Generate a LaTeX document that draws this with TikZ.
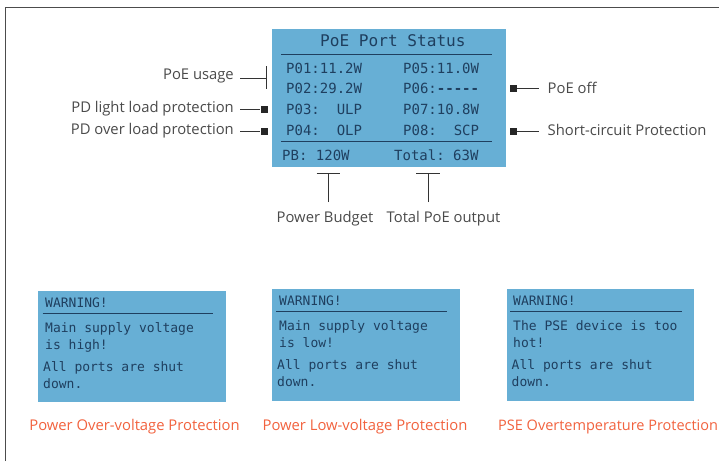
\documentclass[tikz,border=0pt]{standalone}
\usepackage{fontspec}
\setmainfont{Open Sans}
\setmonofont{DejaVu Sans Mono}
\definecolor{lcd}{HTML}{67AFD5}
\definecolor{lcdtext}{HTML}{1F3F5F}
\definecolor{lab}{HTML}{4A4A4A}
\definecolor{warn}{HTML}{F2623E}
\tikzset{
  lcdline/.style={anchor=base west,inner sep=0pt,text=lcdtext,font=\ttfamily\fontsize{14}{14}\selectfont},
  warnline/.style={anchor=base west,inner sep=0pt,text=lcdtext,font=\ttfamily\fontsize{13}{13}\selectfont},
  rule/.style={draw=lcdtext,line width=1pt},
  lab/.style={inner sep=0pt,text=lab,font=\fontsize{14.8}{15}\selectfont},
  warnlab/.style={inner sep=0pt,anchor=base,text=warn,font=\fontsize{14.8}{15}\selectfont},
  conn/.style={draw=black!80,line width=1pt},
  endsq/.style={fill=black!85,draw=none,minimum size=7pt,inner sep=0pt},
}
\begin{document}
\begin{tikzpicture}[x=1pt,y=-1pt]
\useasboundingbox (0,0) rectangle (719,461);
\fill[white] (0,0) rectangle (719,461);
\draw[black!70,line width=1pt] (5,461) -- (5,7.5) -- (719,7.5);
% main panel
\fill[lcd] (272,29) rectangle (505.5,166.5);
\node[lcdline,font=\ttfamily\fontsize{16.1}{16}\selectfont] (title) at (320,46) {PoE Port Status};
\draw[rule] (281,54) -- (492,54);
\draw[rule] (281,141) -- (492,141);
\node[lcdline] (p1) at (286,73) {P01:11.2W};
\node[lcdline] (p2) at (286,93.5) {P02:29.2W};
\node[lcdline] (p3) at (286,114) {P03:~~ULP};
\node[lcdline] (p4) at (286,135) {P04:~~OLP};
\node[lcdline] (p5) at (403,73) {P05:11.0W};
\node[lcdline] (p6) at (403,93.5) {P06:{\bfseries-----}};
\node[lcdline] (p7) at (403,114) {P07:10.8W};
\node[lcdline] (p8) at (403,135) {P08:~~SCP};
\node[lcdline] (pb) at (282,160) {PB: 120W};
\node[lcdline] (tot) at (394,160) {Total: 63W};
% left labels
\node[lab,anchor=east] (l1) at (234,76) {PoE usage};
\node[lab,anchor=east] (l2) at (234,108.5) {PD light load protection};
\node[lab,anchor=east] (l3) at (234,131) {PD over load protection};
\coordinate (c1) at (266.5,78);
\draw[conn] (240,78) -- (c1);
\draw[conn] (266.5,66) -- (266.5,89);
\node[endsq] (s2) at (264,109) {};
\node[endsq] (s3) at (264,131) {};
\draw[conn] (240,109) -- (s2);
\draw[conn] (240,131) -- (s3);
% right labels
\node[lab,anchor=west] (r1) at (547.5,88) {PoE off};
\node[lab,anchor=west] (r2) at (547.5,130) {Short-circuit Protection};
\node[endsq] (s6) at (513.5,88.5) {};
\node[endsq] (s8) at (513.5,131) {};
\draw[conn] (s6) -- (539,88.5);
\draw[conn] (s8) -- (539,131);
% bottom labels
\node[lab,anchor=base] (b1) at (325,222) {Power Budget};
\node[lab,anchor=base] (b2) at (443.5,222) {Total PoE output};
\coordinate (t1) at (328,173);
\coordinate (t2) at (428,173);
\draw[conn] (328,202) -- (t1);
\draw[conn] (316.5,173) -- (340,173);
\draw[conn] (428,202) -- (t2);
\draw[conn] (416,173) -- (439.5,173);
% warnings
\fill[lcd] (38,290.5) rectangle (226,402);
\node[warnline] (w1a) at (45,307) {WARNING!};
\draw[rule] (42.5,313) -- (213,313);
\node[warnline] (w1b) at (45,332) {Main supply voltage};
\node[warnline] (w1c) at (45,349) {is high!};
\node[warnline] (w1d) at (43,371) {All ports are shut};
\node[warnline] (w1e) at (43,388) {down.};
\fill[lcd] (272,289) rectangle (460,400.5);
\node[warnline] (w2a) at (279,305) {WARNING!};
\draw[rule] (276,311) -- (447,311);
\node[warnline] (w2b) at (279,330) {Main supply voltage};
\node[warnline] (w2c) at (279,347) {is low!};
\node[warnline] (w2d) at (277,369) {All ports are shut};
\node[warnline] (w2e) at (277,386) {down.};
\fill[lcd] (507,289) rectangle (693.5,400.5);
\node[warnline] (w3a) at (513,305) {WARNING!};
\draw[rule] (510,311) -- (682,311);
\node[warnline] (w3b) at (513,330) {The PSE device is too};
\node[warnline] (w3c) at (513,347) {hot!};
\node[warnline] (w3d) at (511.5,369) {All ports are shut};
\node[warnline] (w3e) at (511.5,386) {down.};
\node[warnlab] (n1) at (134.5,430) {Power Over-voltage Protection};
\node[warnlab] (n2) at (365,430) {Power Low-voltage Protection};
\node[warnlab,anchor=base west,font=\fontsize{14.5}{15}\selectfont] (n3) at (498,430) {PSE Overtemperature Protection};
\end{tikzpicture}
\end{document}
